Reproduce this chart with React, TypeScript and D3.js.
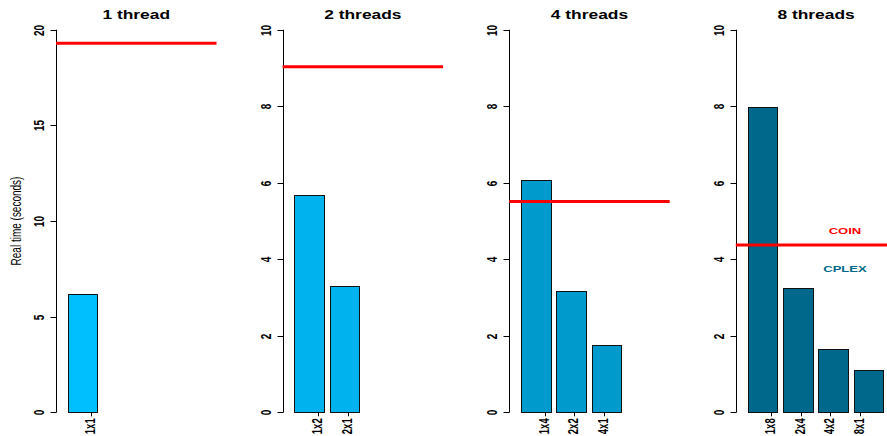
import { useEffect, useRef } from "react";
import * as d3 from "d3";

// panel titles and bar labels
const panelTitles = ["1 thread", "2 threads", "4 threads", "8 threads"];
const barLabels = [
  ["1x1"],
  ["1x2", "2x1"],
  ["1x4", "2x2", "4x1"],
  ["1x8", "2x4", "4x2", "8x1"],
];
// CPLEX real times (seconds)
const cplexTimes = [
  [6.2],
  [5.69, 3.3],
  [6.06, 3.18, 1.75],
  [7.98, 3.25, 1.66, 1.11],
];
// COIN reference time per panel
const coinTimes = [19.29, 9.03, 5.51, 4.37];
const yMax = [20, 10, 10, 10];
const yTicks = [
  [0, 5, 10, 15, 20],
  [0, 2, 4, 6, 8, 10],
  [0, 2, 4, 6, 8, 10],
  [0, 2, 4, 6, 8, 10],
];
const barColors = ["#00BFFF", "#00B2EE", "#009ACD", "#00688B"];

const W = 887;
const H = 436;
const SX = 1.45; // text stretch of the original picture

export default function App() {
  const ref = useRef<SVGSVGElement>(null);

  useEffect(() => {
    drawChart();
  }, []);

  function drawChart() {
    const svg = d3.select(ref.current);
    svg.selectAll("*").remove();
    const font = "'Liberation Sans', Arial, sans-serif";

    const top = 29.7,
      bottom = 412.3,
      plotW = 160.5;

    panelTitles.forEach((title, p) => {
      const left = 56 + p * 226.6;
      const x = d3.scaleLinear().domain([-0.2, 5.24]).range([left, left + plotW]);
      const y = d3.scaleLinear().domain([0, yMax[p]]).range([bottom, top]);
      const g = svg.append("g");

      // bars
      g.append("g")
        .selectAll("rect")
        .data(cplexTimes[p])
        .join("rect")
        .attr("x", (_, i) => Math.round(x(0.2 + 1.2 * i)) + 0.5)
        .attr("y", (d) => Math.round(y(d)) + 0.5)
        .attr("width", (_, i) => Math.round(x(1.2 + 1.2 * i)) - Math.round(x(0.2 + 1.2 * i)))
        .attr("height", (d) => Math.round(y(0)) - Math.round(y(d)))
        .attr("fill", barColors[p])
        .attr("stroke", "#111")
        .attr("stroke-width", 1);

      // y axis
      const ax = Math.round(left) + 0.5;
      g.append("line")
        .attr("x1", ax)
        .attr("x2", ax)
        .attr("y1", y(0))
        .attr("y2", y(yMax[p]))
        .attr("stroke", "#000");
      yTicks[p].forEach((t) => {
        const ty = Math.round(y(t)) + 0.5;
        g.append("line")
          .attr("x1", ax - 6)
          .attr("x2", ax)
          .attr("y1", ty)
          .attr("y2", ty)
          .attr("stroke", "#000");
        g.append("text")
          .attr("transform", `translate(${ax - 13},${ty}) scale(${SX},1) rotate(-90)`)
          .attr("text-anchor", "middle")
          .attr("font-family", font)
          .attr("font-weight", "bold")
          .attr("font-size", 10)
          .attr("fill", "#000")
          .text(t);
      });

      // x ticks and labels (axis at 1..n)
      barLabels[p].forEach((lab, i) => {
        const tx = Math.round(x(i + 1)) + 0.5;
        g.append("line")
          .attr("x1", tx)
          .attr("x2", tx)
          .attr("y1", bottom)
          .attr("y2", bottom + 4)
          .attr("stroke", "#000");
        g.append("text")
          .attr("transform", `translate(${tx + 3.5},${bottom + 6}) scale(${SX},1) rotate(-90)`)
          .attr("text-anchor", "end")
          .attr("font-family", font)
          .attr("font-weight", "bold")
          .attr("font-size", 9.5)
          .attr("fill", "#000")
          .text(lab);
      });

      // COIN line
      g.append("line")
        .attr("x1", left)
        .attr("x2", left + plotW)
        .attr("y1", y(coinTimes[p]))
        .attr("y2", y(coinTimes[p]))
        .attr("stroke", "#FF0000")
        .attr("stroke-width", 3);

      // title
      g.append("text")
        .attr("transform", `translate(${left + plotW / 2},19.3) scale(${SX},1)`)
        .attr("text-anchor", "middle")
        .attr("font-family", font)
        .attr("font-weight", "bold")
        .attr("font-size", 12)
        .attr("fill", "#000")
        .text(title);

      if (p === 0) {
        g.append("text")
          .attr("transform", `translate(21,221) scale(${SX},1) rotate(-90)`)
          .attr("text-anchor", "middle")
          .attr("font-family", font)
          .attr("font-size", 10)
          .attr("fill", "#000")
          .text("Real time (seconds)");
      }

      if (p === 3) {
        // legend labels
        [
          { label: "COIN", v: 4.75, color: "#FF0000" },
          { label: "CPLEX", v: 3.76, color: "#00688B" },
        ].forEach((d) => {
          g.append("text")
            .attr("transform", `translate(${x(3.5)},${y(d.v) + 3.3}) scale(${SX},1)`)
            .attr("text-anchor", "middle")
            .attr("font-family", font)
            .attr("font-weight", "bold")
            .attr("font-size", 9)
            .attr("fill", d.color)
            .text(d.label);
        });
      }
    });
  }

  return (
    <svg
      ref={ref}
      width={W}
      height={H}
      style={{ position: "absolute", left: 0, top: 0, background: "#fff", display: "block" }}
    />
  );
}
